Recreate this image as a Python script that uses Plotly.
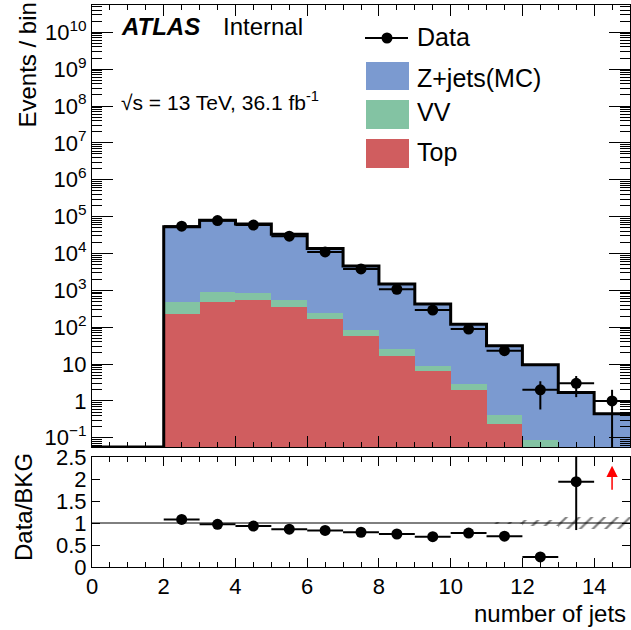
import numpy as np
import plotly.graph_objects as go

# ---------------- data ----------------
bin_low = list(range(2, 15))                      # lower bin edges (number of jets)
top_mc = [224, 490, 546, 352, 167, 59, 17, 6.4, 2.0, 0.24, 0.05, 0.01, 0.01]
vv_mc = [266, 393, 324, 194, 71, 25, 8, 2.5, 0.9, 0.17, 0.038, 0.02, 0.02]
zjets_mc = [52510, 79117, 62130, 32454, 13462, 4516, 1455, 417, 117, 31.2, 9.5, 1.65, 0.42]
data_counts = [55000, 78000, 59000, 29500, 11000, 3800, 1070, 292, 89, 23, 2, 3, 1]

ratio_vals = [1.08, 0.97, 0.93, 0.86, 0.83, 0.79, 0.75, 0.69, 0.77, 0.70, 0.23, 1.94, None]
ratio_err_lo = [0, 0, 0, 0, 0, 0, 0, 0, 0, 0, 0, 1.10, 0]
ratio_err_hi = [0, 0, 0, 0, 0, 0, 0, 0, 0, 0, 0, 1.20, 0]
band_low = [11, 12, 13, 14]
band_half = [0.03, 0.06, 0.13, 0.13]
offscale_low = 14
offscale_arrow = [1.72, 2.30]

# ---------------- styling ----------------
FONT = "Liberation Sans, Arial, sans-serif"
C_Z = "#7b9ad0"
C_VV = "#83c3a3"
C_TOP = "#d05d5f"

W, H = 631, 630
L, R, T, B = 92, 1, 5, 63
PW, PH = W - L - R, H - T - B
Y_LO, Y_HI = -1.25, 10.74
upper_dom = [(H - B - 447) / PH, 1.0]
lower_dom = [0.0, (H - B - 457) / PH]


def px(xp):
    return (xp - L) / PW


def py(yp):
    return (H - B - yp) / PH


centers = np.array(bin_low) + 0.5
top_a = np.array(top_mc)
vv_a = np.array(vv_mc)
z_a = np.array(zjets_mc)
total = top_a + vv_a + z_a
dat = np.array(data_counts, dtype=float)
err = np.sqrt(dat)
err_lo = np.minimum(err, dat * 0.999)

fig = go.Figure()

for vals, col in [(top_a, C_TOP), (vv_a, C_VV), (z_a, C_Z)]:
    fig.add_trace(go.Bar(x=centers, y=vals, width=1, marker=dict(color=col, line_width=0),
                         xaxis="x", yaxis="y", showlegend=False))

# outline of the total stack
ymin_val = 10 ** Y_LO
edges_x = [0, bin_low[0]] + list(bin_low) + [bin_low[-1] + 1]
edges_y = [ymin_val, ymin_val] + list(total) + [total[-1]]
fig.add_trace(go.Scatter(x=edges_x, y=edges_y, mode="lines", line=dict(color="black", width=3, shape="hv"),
                         xaxis="x", yaxis="y", showlegend=False, hoverinfo="skip"))

# data points
fig.add_trace(go.Scatter(x=centers, y=dat, mode="markers",
                         marker=dict(color="black", size=11),
                         error_x=dict(type="constant", value=0.5, color="black", thickness=2, width=0),
                         error_y=dict(type="data", array=err, arrayminus=err_lo, color="black", thickness=2, width=0),
                         xaxis="x", yaxis="y", showlegend=False))

# ratio band
fig.add_trace(go.Bar(x=np.array(band_low) + 0.5, y=2 * np.array(band_half), base=1 - np.array(band_half), width=1,
                     marker=dict(color="rgba(0,0,0,0)", line_width=0,
                                 pattern=dict(shape="/", fgcolor="black", bgcolor="rgba(0,0,0,0)",
                                              size=9, solidity=0.25, fillmode="overlay")),
                     xaxis="x2", yaxis="y2", showlegend=False))

fig.add_trace(go.Scatter(x=centers, y=ratio_vals, mode="markers",
                         marker=dict(color="black", size=11),
                         error_x=dict(type="constant", value=0.5, color="black", thickness=2, width=0),
                         error_y=dict(type="data", array=ratio_err_hi, arrayminus=ratio_err_lo,
                                      color="black", thickness=2, width=0),
                         xaxis="x2", yaxis="y2", showlegend=False))

shapes = [dict(type="line", xref="x2", yref="y2", x0=0, x1=15, y0=1, y1=1,
               line=dict(color="black", width=1))]

# legend (drawn by hand)
shapes.append(dict(type="line", xref="paper", yref="paper", x0=px(365), x1=px(408), y0=py(38), y1=py(38),
                   line=dict(color="black", width=2)))
shapes.append(dict(type="circle", xref="paper", yref="paper", x0=px(381.5), x1=px(392.5), y0=py(43.5), y1=py(32.5),
                   fillcolor="black", line=dict(color="black", width=0)))
for (y0, y1, col) in [(62, 90, C_Z), (100, 129, C_VV), (139, 168, C_TOP)]:
    shapes.append(dict(type="rect", xref="paper", yref="paper", x0=px(366), x1=px(409), y0=py(y1), y1=py(y0),
                       fillcolor=col, line=dict(width=0)))

ann = []
for txt, yc in [("Data", 37), ("Z+jets(MC)", 78), ("VV", 112), ("Top", 152)]:
    ann.append(dict(text=txt, xref="paper", yref="paper", x=px(415), y=py(yc), xanchor="left",
                    yanchor="middle", showarrow=False, font=dict(family=FONT, size=25, color="black")))

ann.append(dict(text="<b><i>ATLAS</i></b>", xref="paper", yref="paper", x=px(119), y=py(26.5), xanchor="left",
                yanchor="middle", showarrow=False, font=dict(family=FONT, size=24, color="black")))
ann.append(dict(text="Internal", xref="paper", yref="paper", x=px(221), y=py(26.5), xanchor="left",
                yanchor="middle", showarrow=False, font=dict(family=FONT, size=24, color="black")))
ann.append(dict(text="√s = 13 TeV, 36.1 fb<sup>-1</sup>", xref="paper", yref="paper", x=px(119), y=py(101),
                xanchor="left", yanchor="middle", showarrow=False, font=dict(family=FONT, size=21, color="black")))

ann.append(dict(text="Events / bin", xref="paper", yref="paper", x=px(27), y=py(1), xanchor="center",
                yanchor="top", textangle=-90, showarrow=False, font=dict(family=FONT, size=24, color="black")))
ann.append(dict(text="Data/BKG", xref="paper", yref="paper", x=px(23), y=py(507), xanchor="center",
                yanchor="middle", textangle=-90, showarrow=False, font=dict(family=FONT, size=24, color="black")))
ann.append(dict(text="number of jets", xref="paper", yref="paper", x=px(628), y=py(613), xanchor="right",
                yanchor="middle", showarrow=False, font=dict(family=FONT, size=24, color="black")))

# off-scale arrow in ratio
ann.append(dict(text="", xref="x2", yref="y2", axref="x2", ayref="y2",
                x=offscale_low + 0.5, y=offscale_arrow[1], ax=offscale_low + 0.5, ay=offscale_arrow[0],
                showarrow=True, arrowhead=2, arrowsize=1.5, arrowwidth=1.5, arrowcolor="red"))

decades = list(range(-1, 11))
tickvals = [10.0 ** d for d in decades]
ticktext = []
for d in decades:
    if d == 0:
        ticktext.append("1")
    elif d == 1:
        ticktext.append("10")
    else:
        ticktext.append("10<sup>%s</sup>" % (str(d) if d > 0 else "−" + str(-d)))
minor_vals = [k * 10.0 ** d for d in range(-2, 11) for k in range(2, 10)]

axis_common = dict(showline=True, linecolor="black", linewidth=1, mirror="ticks", showgrid=False,
                   zeroline=False, ticks="inside", tickcolor="black", automargin=False,
                   tickfont=dict(family=FONT, size=22, color="black"))

fig.update_layout(
    width=W, height=H, margin=dict(l=L, r=R, t=T, b=B, pad=0, autoexpand=False),
    paper_bgcolor="white", plot_bgcolor="white",
    barmode="stack", bargap=0, showlegend=False,
    xaxis=dict(domain=[0, 1], range=[0, 15], anchor="y", showticklabels=False, tick0=0, dtick=2, ticklen=11,
               minor=dict(dtick=0.5, tick0=0, ticklen=5, ticks="inside", tickcolor="black", showgrid=False),
               **axis_common),
    yaxis=dict(domain=upper_dom, type="log", range=[Y_LO, Y_HI], anchor="x", tickmode="array",
               tickvals=tickvals, ticktext=ticktext, ticklen=21,
               minor=dict(tickmode="array", tickvals=minor_vals, ticklen=10, ticks="inside",
                          tickcolor="black", showgrid=False),
               **axis_common),
    xaxis2=dict(domain=[0, 1], range=[0, 15], anchor="y2", tick0=0, dtick=2, ticklen=9,
                minor=dict(dtick=0.5, tick0=0, ticklen=5, ticks="inside", tickcolor="black", showgrid=False),
                **axis_common),
    yaxis2=dict(domain=lower_dom, range=[0, 2.5], anchor="x2", tick0=0, dtick=0.5, ticklen=8,
                **axis_common),
    shapes=shapes, annotations=ann,
)

fig.write_html("out.html")
